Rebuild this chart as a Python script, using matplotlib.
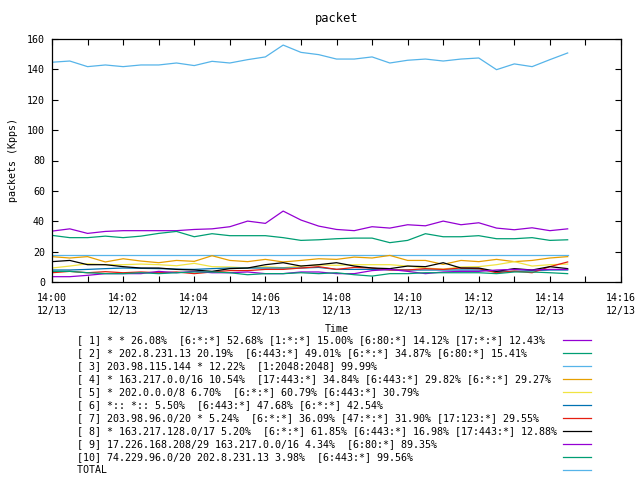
#!/usr/bin/env python

import numpy as np
import pandas as pd
import matplotlib
matplotlib.use("Agg")
import matplotlib.pyplot as plt
import matplotlib.dates as mdates

plt.rcParams['font.family'] = ['DejaVu Sans Mono']
plt.rcParams['font.size'] = 7.2

# samples every 30 s starting 14:00 on 12/13
times = pd.date_range("2023-12-13 14:00:00", periods=30, freq="30s")

s1 = [33.5, 35.0, 32.0, 33.3, 33.8, 33.8, 33.8, 33.8, 34.6, 35.0, 36.4, 40.1, 38.6, 46.7, 40.8,
      36.8, 34.6, 33.8, 36.4, 35.5, 37.7, 37.0, 40.1, 37.7, 39.0, 35.5, 34.4, 35.7, 33.8, 35.0]
s2 = [30.7, 29.2, 29.2, 30.2, 29.2, 30.2, 32.0, 33.3, 29.8, 31.8, 30.5, 30.5, 30.5, 29.2, 27.4,
      27.8, 28.5, 28.9, 28.9, 25.9, 27.4, 31.8, 29.8, 29.8, 30.5, 28.5, 28.5, 29.2, 27.4, 27.8]
s3 = [18.0] * 30
s4 = [16.7, 15.8, 16.7, 13.2, 15.3, 13.8, 12.7, 14.2, 13.6, 17.3, 14.2, 13.4, 14.9, 13.2, 14.2,
      15.3, 14.9, 16.4, 15.8, 17.5, 14.2, 14.2, 11.6, 14.2, 13.4, 14.9, 13.4, 14.2, 15.8, 16.7]
s5 = [9.2, 10.5, 12.0, 11.4, 11.4, 11.8, 11.4, 10.7, 12.3, 10.1, 9.9, 9.2, 10.1, 9.4, 10.5,
      11.2, 11.0, 11.4, 11.4, 11.4, 10.5, 9.2, 8.5, 9.9, 10.1, 11.4, 13.4, 10.5, 11.4, 11.8]
s6 = [7.9, 7.9, 8.3, 8.8, 9.2, 9.0, 8.8, 8.5, 8.3, 8.8, 9.2, 9.2, 9.2, 9.2, 9.2,
      9.6, 8.3, 8.3, 8.3, 8.0, 7.9, 7.9, 7.9, 7.9, 7.9, 7.0, 7.0, 7.5, 7.9, 7.9]
s7 = [6.1, 7.0, 6.1, 6.8, 6.1, 6.6, 6.1, 6.6, 5.5, 6.6, 7.5, 7.5, 8.3, 8.3, 9.2,
      10.1, 8.3, 9.6, 9.2, 7.9, 7.9, 8.8, 8.3, 9.2, 8.8, 6.1, 7.2, 6.1, 10.1, 13.2]
s8 = [13.4, 14.2, 11.4, 11.4, 10.1, 9.2, 9.2, 8.3, 7.9, 7.0, 8.8, 9.2, 11.4, 12.7, 10.5,
      11.4, 12.7, 10.5, 9.2, 8.8, 10.5, 10.1, 12.7, 9.2, 9.2, 7.0, 8.8, 7.9, 10.1, 8.8]
s9 = [3.5, 3.5, 4.4, 5.5, 5.5, 5.5, 7.0, 6.1, 7.0, 6.1, 6.1, 6.6, 5.5, 5.5, 6.6,
      6.6, 5.5, 5.5, 7.5, 8.3, 7.0, 5.5, 6.6, 7.0, 7.0, 7.9, 8.3, 7.9, 8.3, 8.3]
s10 = [7.0, 7.0, 6.1, 5.5, 5.5, 6.1, 5.5, 6.1, 6.6, 6.6, 6.1, 4.8, 5.5, 5.5, 6.1,
       5.5, 6.1, 4.8, 3.9, 5.5, 5.5, 6.1, 6.1, 6.1, 6.1, 5.5, 6.6, 6.6, 6.1, 5.5]
total = [144.7, 145.5, 141.8, 142.9, 141.8, 142.9, 142.9, 144.2, 142.5, 145.3, 144.2, 146.4, 148.2, 156.0, 151.2,
         149.7, 146.8, 146.8, 148.2, 144.2, 146.0, 146.8, 145.5, 146.8, 147.5, 139.8, 143.6, 141.8, 146.4, 150.8]

labels = [
    "[ 1] * * 26.08%  [6:*:*] 52.68% [1:*:*] 15.00% [6:80:*] 14.12% [17:*:*] 12.43%",
    "[ 2] * 202.8.231.13 20.19%  [6:443:*] 49.01% [6:*:*] 34.87% [6:80:*] 15.41%",
    "[ 3] 203.98.115.144 * 12.22%  [1:2048:2048] 99.99%",
    "[ 4] * 163.217.0.0/16 10.54%  [17:443:*] 34.84% [6:443:*] 29.82% [6:*:*] 29.27%",
    "[ 5] * 202.0.0.0/8 6.70%  [6:*:*] 60.79% [6:443:*] 30.79%",
    "[ 6] *:: *:: 5.50%  [6:443:*] 47.68% [6:*:*] 42.54%",
    "[ 7] 203.98.96.0/20 * 5.24%  [6:*:*] 36.09% [47:*:*] 31.90% [17:123:*] 29.55%",
    "[ 8] * 163.217.128.0/17 5.20%  [6:*:*] 61.85% [6:443:*] 16.98% [17:443:*] 12.88%",
    "[ 9] 17.226.168.208/29 163.217.0.0/16 4.34%  [6:80:*] 89.35%",
    "[10] 74.229.96.0/20 202.8.231.13 3.98%  [6:443:*] 99.56%",
    "TOTAL",
]
series = [s1, s2, s3, s4, s5, s6, s7, s8, s9, s10, total]
colors = ["#9400d3", "#009e73", "#56b4e9", "#e69f00", "#f0e442", "#0072b2",
          "#e51e10", "#000000", "#9400d3", "#009e73", "#56b4e9"]

# pad labels so the monospace text lines up on the left
width = max(len(l) for l in labels)
padded = [l.ljust(width) for l in labels]

fig = plt.figure(figsize=(6.4, 4.8), dpi=100)
ax = fig.add_axes([52 / 640, 1 - 282 / 480, (621 - 52) / 640, (282 - 39) / 480])

for ys, c, lab in zip(series, colors, padded):
    ax.plot(times, ys, color=c, lw=0.9, label=lab)

ax.set_xlim(pd.Timestamp("2023-12-13 14:00"), pd.Timestamp("2023-12-13 14:16"))
ax.set_ylim(0, 160)
ax.set_yticks(np.arange(0, 161, 20))
ax.xaxis.set_major_locator(mdates.MinuteLocator(byminute=range(0, 60, 2)))
ax.xaxis.set_minor_locator(mdates.MinuteLocator())
ax.xaxis.set_major_formatter(mdates.DateFormatter("%H:%M\n%m/%d"))
ax.tick_params(which="both", direction="in", top=True, right=True, length=4, width=0.8, pad=5)
ax.tick_params(axis="x", pad=8)
plt.setp(ax.get_xticklabels(), linespacing=1.35)
for sp in ax.spines.values():
    sp.set_linewidth(0.9)

ax.set_title("packet", pad=12)
ax.set_xlabel("Time", labelpad=6)
ax.set_ylabel("packets (Kpps)")
ax.yaxis.set_label_coords(-0.06, 0.5)

ax.legend(loc="upper left", bbox_to_anchor=(77 / 640, 1 - 335 / 480),
          bbox_transform=fig.transFigure, frameon=False, markerfirst=False,
          handlelength=2.8, handletextpad=0.6, labelspacing=0.3, borderpad=0,
          borderaxespad=0)

fig.savefig("out.png", dpi=100)
plt.close()
